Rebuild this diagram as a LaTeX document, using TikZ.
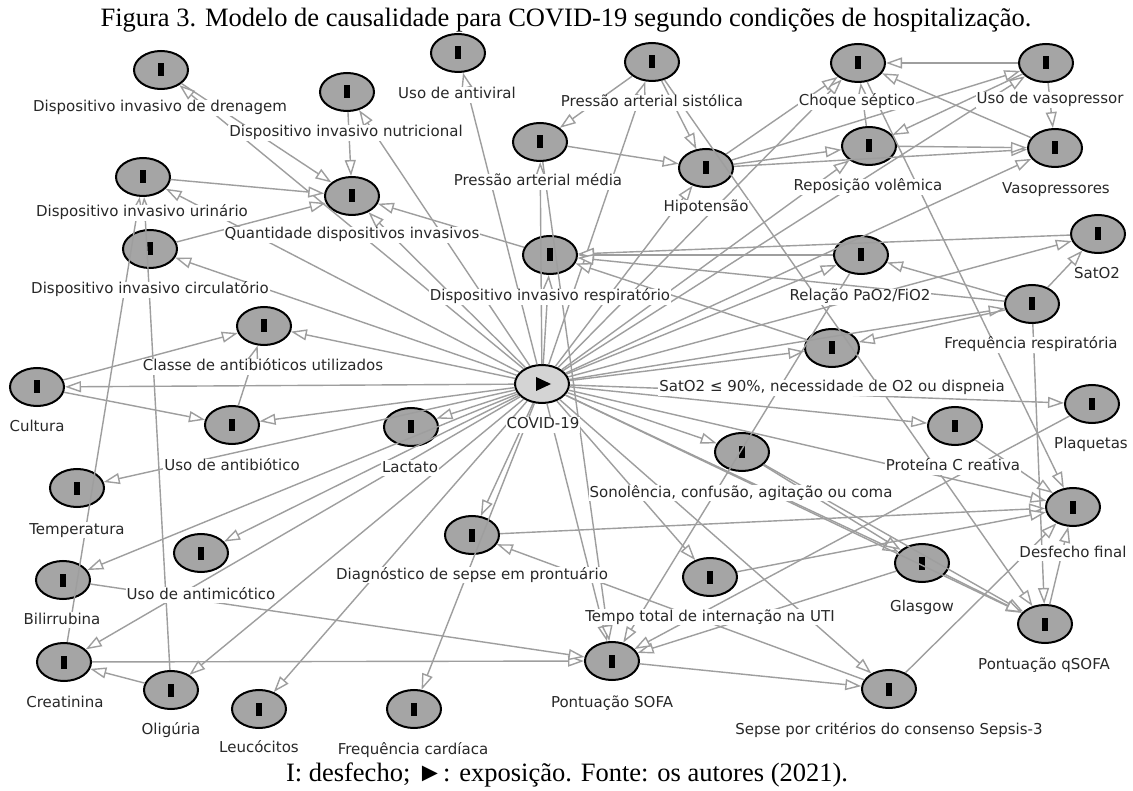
\documentclass[tikz,border=0pt]{standalone}
\usepackage{fontspec}
\setmainfont{Liberation Serif}
\newfontfamily\lblfont{DejaVu Sans}
\usetikzlibrary{shapes.geometric,arrows.meta}
\definecolor{edgec}{RGB}{158,158,158}
\definecolor{nodefill}{RGB}{165,165,165}
\definecolor{expfill}{RGB}{212,212,212}
\definecolor{lblc}{RGB}{40,40,40}
\newcommand\outbar{\rule[-6.5pt]{5.5pt}{13pt}}
\begin{document}
\begin{tikzpicture}[x=1pt,y=-1pt,
 outc/.style={ellipse,draw=black,line width=2pt,fill=nodefill,minimum width=54pt,minimum height=38pt,inner sep=0pt},
 expc/.style={outc,fill=expfill},
 lbl/.style={font=\lblfont\fontsize{15}{18}\selectfont,text=lblc,fill=white,inner sep=1pt,text height=11pt,text depth=3pt},
 cedge/.style={draw=edgec,line width=1.4pt,-{Triangle[length=16pt,width=11pt,fill=white]}},
 capt/.style={font=\fontsize{26.5}{30}\selectfont,inner sep=0pt}
]
\fill[white] (0,0) rectangle (1133,791);
\useasboundingbox (0,0) rectangle (1133,791);
% nodes
\node[outc] (drain) at (161,70) {\outbar};
\node[outc] (nutri) at (347,92) {\outbar};
\node[outc] (antiv) at (458,53) {\outbar};
\node[outc] (pas) at (652,62) {\outbar};
\node[outc] (pam) at (540,142) {\outbar};
\node[outc] (hipo) at (706,168) {\outbar};
\node[outc] (choque) at (858,63) {\outbar};
\node[outc] (usovaso) at (1046,63) {\outbar};
\node[outc] (repos) at (869,146) {\outbar};
\node[outc] (vaso) at (1055,148) {\outbar};
\node[outc] (quant) at (352,196) {\outbar};
\node[outc] (urin) at (143,177) {\outbar};
\node[outc] (circ) at (150,249) {\outbar};
\node[outc] (resp) at (550,255) {\outbar};
\node[outc] (relacao) at (861,255) {\outbar};
\node[outc] (sat) at (1098,234) {\outbar};
\node[outc] (fr) at (1032,304) {\outbar};
\node[outc] (sat90) at (832,348) {\outbar};
\node[outc] (classe) at (264,326) {\outbar};
\node[outc] (cultura) at (37,387) {\outbar};
\node[expc] (covid) at (542,384) {};
\node[outc] (atb) at (232,425) {\outbar};
\node[outc] (lactato) at (411,427) {\outbar};
\node[outc] (plaq) at (1092,404) {\outbar};
\node[outc] (pcr) at (955,426) {\outbar};
\node[outc] (sono) at (742,452) {\outbar};
\node[outc] (temp) at (77,488) {\outbar};
\node[outc] (antim) at (201,553) {\outbar};
\node[outc] (bili) at (63,580) {\outbar};
\node[outc] (creat) at (64,662) {\outbar};
\node[outc] (olig) at (171,690) {\outbar};
\node[outc] (leuco) at (259,709) {\outbar};
\node[outc] (diag) at (472,535) {\outbar};
\node[outc] (fc) at (414,709) {\outbar};
\node[outc] (uti) at (710,577) {\outbar};
\node[outc] (sofa) at (612,661) {\outbar};
\node[outc] (sepse) at (889,689) {\outbar};
\node[outc] (glas) at (922,563) {\outbar};
\node[outc] (qsofa) at (1045,624) {\outbar};
\node[outc] (desf) at (1073,507) {\outbar};
\fill[shift={(covid.center)}] (-6,-7) -- (9,0) -- (-6,7) -- cycle;
% edges from exposure
\foreach \t in {drain,nutri,antiv,pas,pam,hipo,choque,usovaso,repos,vaso,quant,urin,circ,resp,relacao,sat,fr,sat90,classe,cultura,atb,lactato,plaq,pcr,sono,temp,antim,bili,creat,olig,leuco,diag,fc,uti,sofa,sepse,glas,qsofa,desf}
  \draw[cedge] (covid) -- (\t);
% other edges
\foreach \a/\b in {drain/quant,nutri/quant,urin/quant,circ/quant,resp/quant,
  olig/urin,creat/urin,cultura/atb,cultura/classe,atb/classe,olig/creat,creat/sofa,bili/sofa,
  pas/pam,pas/hipo,pam/hipo,pas/qsofa,pam/sofa,hipo/choque,hipo/repos,hipo/usovaso,hipo/vaso,
  repos/vaso,repos/choque,usovaso/choque,vaso/choque,usovaso/vaso,usovaso/repos,choque/desf,
  relacao/resp,sat/resp,fr/resp,sat90/resp,fr/sat,fr/relacao,fr/sat90,fr/qsofa,
  sono/glas,sono/qsofa,glas/qsofa,glas/sofa,plaq/sofa,relacao/sofa,sofa/sepse,sepse/diag,sepse/desf,
  diag/desf,uti/desf,pcr/desf,qsofa/desf}
  \draw[cedge] (\a) -- (\b);
% labels
\node[lbl] (l-drain) at (160,108) {Dispositivo invasivo de drenagem};
\node[lbl] (l-nutri) at (346,133) {Dispositivo invasivo nutricional};
\node[lbl] (l-antiv) at (457,95) {Uso de antiviral};
\node[lbl] (l-pas) at (652,103) {Pressão arterial sistólica};
\node[lbl] (l-pam) at (538,182) {Pressão arterial média};
\node[lbl] (l-hipo) at (706,208) {Hipotensão};
\node[lbl] (l-choque) at (857,102) {Choque séptico};
\node[lbl] (l-usovaso) at (1050,100) {Uso de vasopressor};
\node[lbl] (l-repos) at (868,187) {Reposição volêmica};
\node[lbl] (l-vaso) at (1056,190) {Vasopressores};
\node[lbl] (l-quant) at (352,235) {Quantidade dispositivos invasivos};
\node[lbl] (l-urin) at (142,213) {Dispositivo invasivo urinário};
\node[lbl] (l-circ) at (150,290) {Dispositivo invasivo circulatório};
\node[lbl] (l-resp) at (550,297) {Dispositivo invasivo respiratório};
\node[lbl] (l-relacao) at (860,297) {Relação PaO2/FiO2};
\node[lbl] (l-sat) at (1097,275) {SatO2};
\node[lbl] (l-fr) at (1031,345) {Frequência respiratória};
\node[lbl] (l-sat90) at (832,388) {SatO2 ≤ 90\%, necessidade de O2 ou dispneia};
\node[lbl] (l-classe) at (263,367) {Classe de antibióticos utilizados};
\node[lbl] (l-cultura) at (37,428) {Cultura};
\node[lbl] (l-covid) at (543,425) {COVID-19};
\node[lbl] (l-atb) at (232,467) {Uso de antibiótico};
\node[lbl] (l-lactato) at (410,468) {Lactato};
\node[lbl] (l-plaq) at (1091,445) {Plaquetas};
\node[lbl] (l-pcr) at (953,467) {Proteína C reativa};
\node[lbl] (l-sono) at (741,493) {Sonolência, confusão, agitação ou coma};
\node[lbl] (l-temp) at (77,530) {Temperatura};
\node[lbl] (l-antim) at (201,595) {Uso de antimicótico};
\node[lbl] (l-bili) at (62,620) {Bilirrubina};
\node[lbl] (l-creat) at (65,703) {Creatinina};
\node[lbl] (l-olig) at (171,730) {Oligúria};
\node[lbl] (l-leuco) at (259,748) {Leucócitos};
\node[lbl] (l-diag) at (472,575) {Diagnóstico de sepse em prontuário};
\node[lbl] (l-fc) at (413,750) {Frequência cardíaca};
\node[lbl] (l-uti) at (710,617) {Tempo total de internação na UTI};
\node[lbl] (l-sofa) at (612,703) {Pontuação SOFA};
\node[lbl] (l-sepse) at (889,730) {Sepse por critérios do consenso Sepsis-3};
\node[lbl] (l-glas) at (922,607) {Glasgow};
\node[lbl] (l-qsofa) at (1044,665) {Pontuação qSOFA};
\node[lbl] (l-desf) at (1073,553) {Desfecho final};
% title and caption
\node[capt] (title) at (566,20) {Figura 3. Modelo de causalidade para COVID-19 segundo condições de hospitalização.};
\node[capt] (caption) at (567,775) {I: desfecho; ►: exposição. Fonte: os autores (2021).};
\end{tikzpicture}
\end{document}
